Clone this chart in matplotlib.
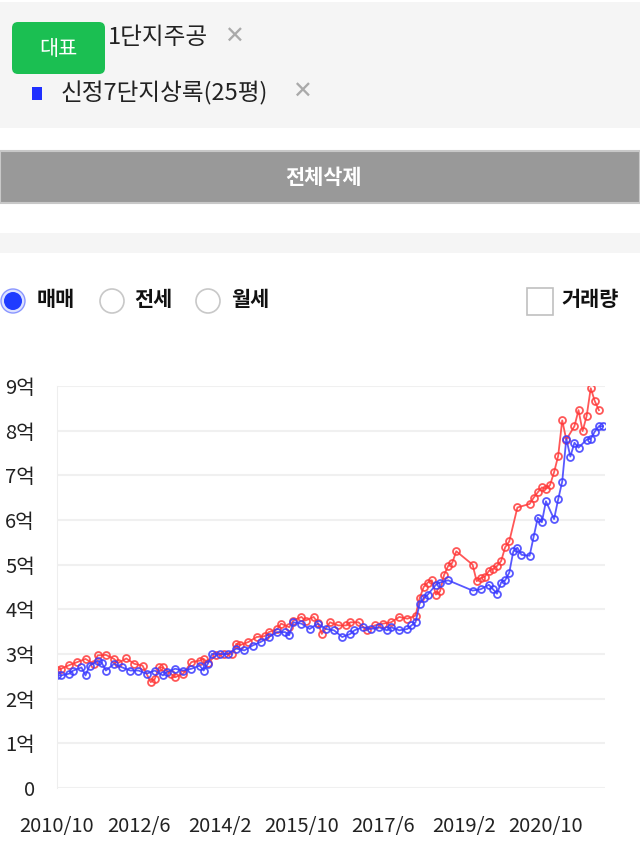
import matplotlib
matplotlib.use("Agg")
import matplotlib.pyplot as plt
from matplotlib.patches import Rectangle, FancyBboxPatch, Circle

plt.rcParams['font.family'] = ['Noto Sans CJK KR', 'DejaVu Sans']

# months counted from 2010/10
red_m = [0, 1, 3, 5, 7, 9, 10, 12, 14, 15, 17, 19, 21, 23, 24, 25, 26, 28, 29, 31,
         33, 35, 36, 37, 39, 41, 43, 44, 45, 47, 49, 51, 52, 54, 55, 57, 58, 60, 61, 63,
         64, 65, 67, 69, 71, 72, 74, 76, 78, 80, 82, 84, 86, 88, 89, 90, 91, 92, 93, 94,
         95, 96, 97, 98, 102, 103, 104, 105, 106, 107, 108, 109, 110, 111, 113, 116, 117,
         118, 119, 120, 121, 122, 123, 124, 125, 127, 128, 129, 130, 131, 132, 133]
red_v = [2.64, 2.67, 2.75, 2.82, 2.89, 2.78, 2.97, 2.98, 2.89, 2.8, 2.9, 2.78, 2.74, 2.37,
         2.44, 2.7, 2.7, 2.55, 2.48, 2.56, 2.82, 2.85, 2.89, 2.8, 2.97, 3.0, 3.0, 3.23, 3.2,
         3.27, 3.38, 3.4, 3.49, 3.55, 3.68, 3.6, 3.75, 3.83, 3.75, 3.83, 3.7, 3.45, 3.71,
         3.64, 3.64, 3.71, 3.71, 3.53, 3.64, 3.68, 3.71, 3.83, 3.79, 3.86, 4.25, 4.5, 4.6,
         4.65, 4.33, 4.4, 4.77, 4.97, 5.04, 5.3, 5.0, 4.63, 4.7, 4.73, 4.86, 4.9, 4.97,
         5.08, 5.39, 5.52, 6.28, 6.36, 6.5, 6.62, 6.73, 6.7, 6.78, 7.07, 7.43, 8.23, 7.8,
         8.1, 8.46, 7.99, 8.33, 8.95, 8.66, 8.46]

blue_m = [0, 1, 3, 4, 6, 7, 8, 10, 11, 12, 14, 16, 18, 20, 22, 24, 26, 27, 29, 31, 33,
          35, 36, 37, 38, 40, 42, 44, 46, 48, 50, 52, 54, 56, 57, 58, 60, 62, 64, 66, 68,
          70, 72, 73, 75, 77, 79, 81, 82, 84, 86, 87, 88, 89, 90, 91, 93, 94, 96, 102, 104,
          106, 107, 108, 109, 110, 111, 112, 113, 114, 116, 117, 118, 119, 120, 122, 123,
          124, 125, 126, 127, 128, 130, 131, 132, 133, 134]
blue_v = [2.52, 2.52, 2.56, 2.63, 2.7, 2.52, 2.74, 2.85, 2.8, 2.63, 2.78, 2.7, 2.63, 2.63,
          2.56, 2.63, 2.52, 2.6, 2.67, 2.63, 2.67, 2.74, 2.63, 2.78, 3.0, 3.0, 3.0, 3.12,
          3.08, 3.19, 3.27, 3.38, 3.49, 3.49, 3.42, 3.71, 3.68, 3.56, 3.68, 3.56, 3.53, 3.38,
          3.45, 3.53, 3.6, 3.56, 3.6, 3.53, 3.6, 3.53, 3.56, 3.64, 3.71, 4.13, 4.25, 4.33,
          4.55, 4.6, 4.65, 4.42, 4.45, 4.55, 4.45, 4.35, 4.6, 4.65, 4.82, 5.3, 5.38, 5.22,
          5.2, 5.63, 6.05, 5.95, 6.42, 6.02, 6.46, 6.86, 7.82, 7.42, 7.73, 7.62, 7.8, 7.82,
          7.98, 8.1, 8.1]

tick_m = [0, 20, 40, 60, 80, 100, 120]
tick_labels = ["2010/10", "2012/6", "2014/2", "2015/10", "2017/6", "2019/2", "2020/10"]
y_ticks = [0, 1, 2, 3, 4, 5, 6, 7, 8, 9]
y_labels = ["0"] + ["%d억" % v for v in y_ticks[1:]]

W, H = 640, 846
fig = plt.figure(figsize=(W / 100, H / 100), dpi=100)

# ---- page-like header drawn in pixel coords ----
ui = fig.add_axes([0, 0, 1, 1])
ui.set_xlim(0, W)
ui.set_ylim(H, 0)
ui.axis("off")

ui.add_patch(Rectangle((0, 2), W, 126, color="#f5f5f5", lw=0))
ui.text(108, 38, "1단지주공", color="#222222", fontsize=17, ha="left", va="center")
ui.add_patch(FancyBboxPatch((12, 22), 93, 52, boxstyle="round,pad=0,rounding_size=6",
                            fc="#1bbf52", ec="none"))
ui.text(58, 49, "대표", color="white", fontsize=15, ha="center", va="center")
ui.text(234, 37, "✕", color="#aaaaaa", fontsize=17, ha="center", va="center",
        family=["DejaVu Sans"])
ui.add_patch(Rectangle((32, 87), 10, 13, color="#1f2fff", lw=0))
ui.text(61, 93, "신정7단지상록(25평)", color="#222222", fontsize=17, ha="left", va="center")
ui.text(302, 92, "✕", color="#aaaaaa", fontsize=17, ha="center", va="center",
        family=["DejaVu Sans"])

ui.add_patch(Rectangle((0, 151), W, 52, fc="#999999", ec="#c8c8c8", lw=1.5))
ui.text(323, 177, "전체삭제", color="white", fontsize=15, fontweight="bold",
        ha="center", va="center")
ui.add_patch(Rectangle((0, 233), W, 20, color="#f5f5f5", lw=0))

# radio buttons
ui.add_patch(Circle((13, 301), 12, fc="#dde2ff", ec="#8a96ff", lw=1))
ui.add_patch(Circle((13, 301), 9, fc="#1f3cff", ec="none"))
ui.text(37, 300, "매매", color="#111111", fontsize=15, fontweight="bold", va="center")
ui.add_patch(Circle((112, 301), 12, fc="white", ec="#c8c8c8", lw=1.2))
ui.text(134, 300, "전세", color="#111111", fontsize=15, fontweight="bold", va="center")
ui.add_patch(Circle((208, 301), 12, fc="white", ec="#c8c8c8", lw=1.2))
ui.text(231, 300, "월세", color="#111111", fontsize=15, fontweight="bold", va="center")
ui.add_patch(Rectangle((527, 288), 26, 27, fc="white", ec="#c0c0c0", lw=1.2))
ui.text(561, 300, "거래량", color="#111111", fontsize=15, fontweight="bold", va="center")

# ---- chart ----
ax = fig.add_axes([57 / W, (H - 788) / H, (605 - 57) / W, (788 - 386) / H])
ax.set_xlim(0, 134.5)
ax.set_ylim(0, 9)
for s in ["top", "right", "bottom"]:
    ax.spines[s].set_visible(False)
ax.spines["left"].set_color("#eeeeee")
ax.set_yticks(y_ticks)
ax.set_yticklabels(y_labels, fontsize=14.5, color="#222222")
ax.set_xticks(tick_m)
ax.set_xticklabels(tick_labels, fontsize=14.5, color="#222222")
ax.tick_params(length=0)
ax.tick_params(axis="y", pad=16)
ax.tick_params(axis="x", pad=20)
ax.grid(axis="y", color="#f0f0f0", lw=1.5)
ax.set_axisbelow(True)

ax.plot(red_m, red_v, color="#ff3a3a", lw=1.3, marker="o", ms=5, mfc="none",
        mew=1.3, alpha=0.85)
ax.plot(blue_m, blue_v, color="#3b3bff", lw=1.3, marker="o", ms=5, mfc="none",
        mew=1.3, alpha=0.85)

fig.savefig("out.png", dpi=100)
